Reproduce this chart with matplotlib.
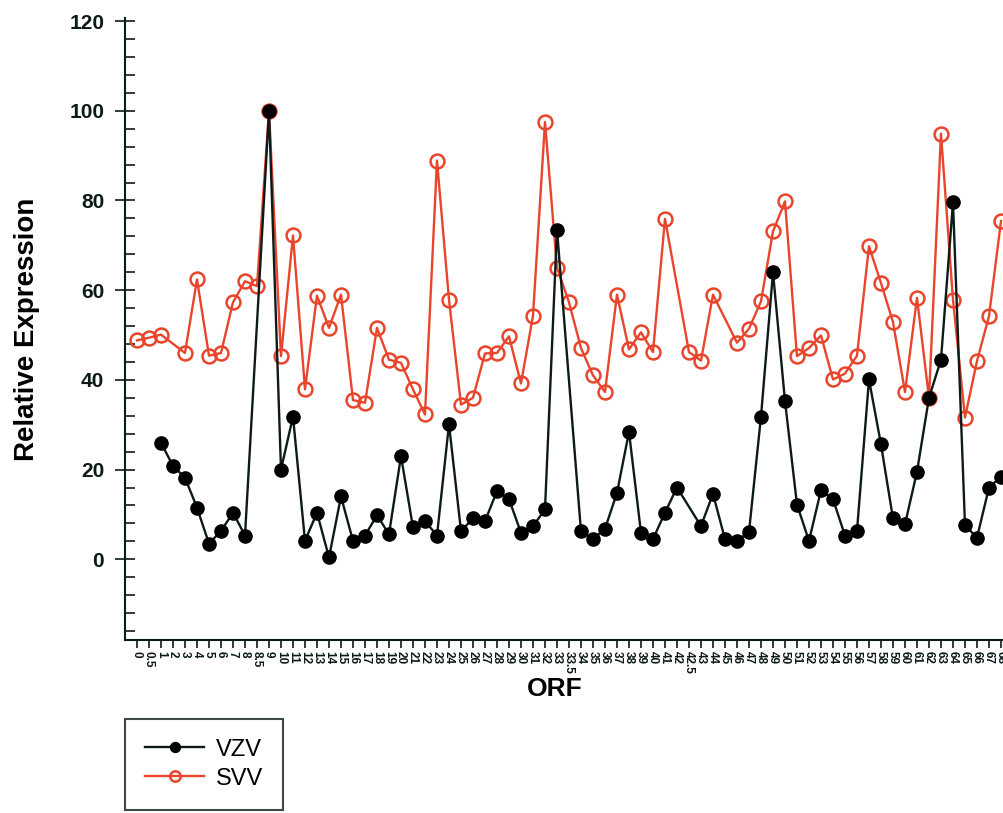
import numpy as np
import matplotlib
matplotlib.use("Agg")
import matplotlib.pyplot as plt
from matplotlib.ticker import MultipleLocator

plt.rcParams['font.family'] = ['Liberation Sans', 'DejaVu Sans']

# ORF categories along the x axis
orf_labels = ['0', '0.5', '1', '2', '3', '4', '5', '6', '7', '8', '8.5', '9',
              '10', '11', '12', '13', '14', '15', '16', '17', '18', '19', '20',
              '21', '22', '23', '24', '25', '26', '27', '28', '29', '30', '31',
              '32', '33', '33.5', '34', '35', '36', '37', '38', '39', '40', '41',
              '42', '42.5', '43', '44', '45', '46', '47', '48', '49', '50', '51',
              '52', '53', '54', '55', '56', '57', '58', '59', '60', '61', '62',
              '63', '64', '65', '66', '67', '68']

nan = np.nan
vzv = [nan, nan, 26.0, 20.8, 18.2, 11.5, 3.5, 6.3, 10.4, 5.3, nan, 100,
       20.0, 31.8, 4.1, 10.4, 0.4, 14.0, 4.1, 5.3, 9.8, 5.6, 23.0,
       7.1, 8.5, 5.3, 30.1, 6.3, 9.1, 8.5, 15.2, 13.4, 5.9, 7.4,
       11.1, 73.5, nan, 6.2, 4.5, 6.8, 14.8, 28.4, 5.9, 4.5, 10.4,
       16.0, nan, 7.4, 14.6, 4.5, 4.1, 6.1, 31.8, 64.0, 35.3, 12.2,
       4.1, 15.4, 13.4, 5.3, 6.3, 40.1, 25.6, 9.1, 7.8, 19.5, 36.0,
       44.5, 79.6, 7.6, 4.8, 16.0, 18.4]

svv = [48.8, 49.4, 50.1, nan, 46.0, 62.4, 45.4, 46.0, 57.3, 62.0, 60.9, 100,
       45.3, 72.2, 37.9, 58.8, 51.6, 59.0, 35.5, 34.9, 51.6, 44.5, 43.8,
       37.9, 32.3, 88.9, 57.9, 34.5, 36.0, 45.9, 46.0, 49.7, 39.2, 54.3,
       97.5, 65.0, 57.3, 47.1, 41.0, 37.3, 59.0, 46.8, 50.6, 46.2, 75.9,
       nan, 46.2, 44.3, 59.0, nan, 48.3, 51.4, 57.5, 73.1, 79.8, 45.3,
       47.1, 49.9, 40.1, 41.4, 45.4, 69.8, 61.6, 52.9, 37.3, 58.3, 36.0,
       94.9, 57.9, 31.6, 44.2, 54.2, 75.4]

RED = '#e8452c'
DARK = '#0d1a1a'

fig = plt.figure(figsize=(10.04, 8.13), dpi=100)
# axes runs past the right edge of the figure, like the cropped original
ax = fig.add_axes([0.1245, 0.2128, 0.8964, 0.7651])

x = np.arange(len(orf_labels))
vzv = np.array(vzv)
svv = np.array(svv)
ms = ~np.isnan(svv)
mv = ~np.isnan(vzv)

l_svv, = ax.plot(x[ms], svv[ms], color=RED, lw=1.7, marker='o', ms=10,
                 mfc='none', mec=RED, mew=1.8, label='SVV')
l_vzv, = ax.plot(x[mv], vzv[mv], color=DARK, lw=1.7, marker='o', ms=9.5,
                 mfc='black', mec='black', label='VZV')

ax.set_xlim(-1, 74)
ax.set_ylim(-18, 120.7)

ax.set_xticks(x)
ax.set_xticklabels(orf_labels, rotation=-90, fontsize=8.5, fontweight='bold')
ax.tick_params(axis='x', direction='out', length=6, width=1.2, pad=2, colors=DARK)

ax.set_yticks(np.arange(0, 121, 20))
ax.yaxis.set_minor_locator(MultipleLocator(4))
ax.tick_params(axis='y', which='major', direction='inout', length=14, width=1.2,
               labelsize=15, pad=8, colors=DARK)
ax.tick_params(axis='y', which='minor', direction='in', length=7, width=1.2, colors=DARK)
for lab in ax.get_yticklabels():
    lab.set_fontweight('bold')

for side in ['top', 'right']:
    ax.spines[side].set_visible(False)
for side in ['left', 'bottom']:
    ax.spines[side].set_linewidth(1.5)
    ax.spines[side].set_color(DARK)

ax.set_ylabel('Relative Expression', fontsize=20, fontweight='bold')
ax.yaxis.set_label_coords(-0.094, 0.5)
ax.set_xlabel('ORF', fontsize=19, fontweight='bold')
ax.xaxis.set_label_coords(0.478, -0.06)

leg = fig.legend(handles=[l_vzv, l_svv], loc='lower left',
                 bbox_to_anchor=(0.1245, 0.004), borderaxespad=0, fontsize=17,
                 frameon=True, fancybox=False, borderpad=0.85, handlelength=2.5,
                 handletextpad=0.5, labelspacing=0.3, markerscale=0.75)
leg.get_frame().set_edgecolor(DARK)
leg.get_frame().set_linewidth(1.5)

fig.savefig('out.png', dpi=100)
